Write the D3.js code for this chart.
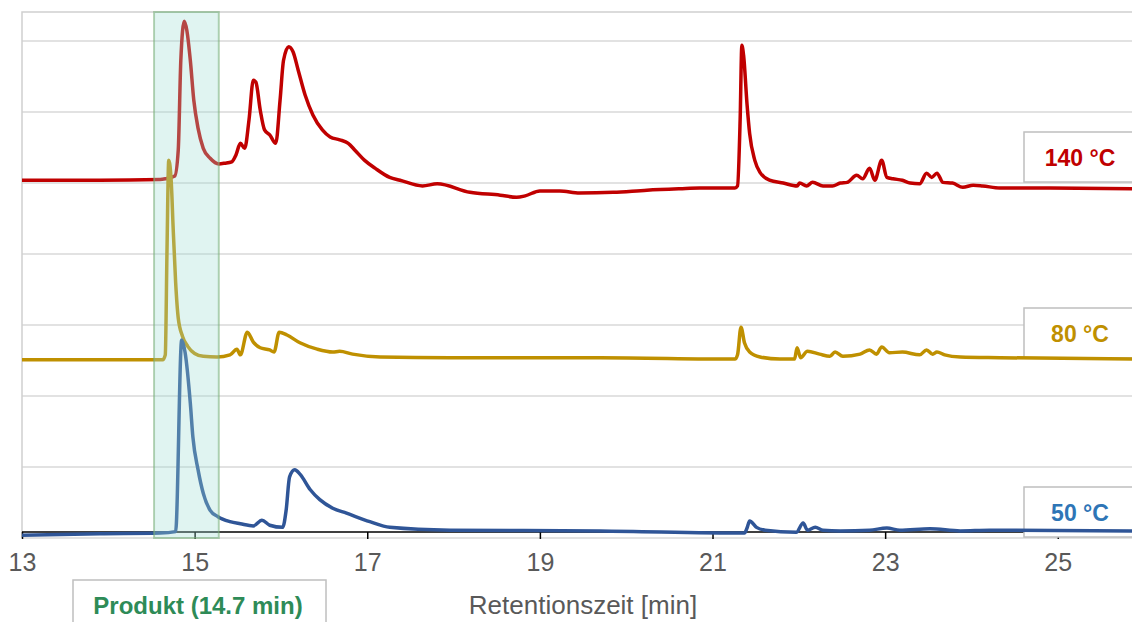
<!DOCTYPE html>
<html>
<head>
<meta charset="utf-8">
<script src="https://cdn.jsdelivr.net/npm/d3@7"></script>
<style>
  body { margin: 0; background: #fff; }
  text { font-family: "Liberation Sans", Arial, sans-serif; }
</style>
</head>
<body>
<div id="chart"></div>
<script>
// retention time [min] / signal (stacked, arbitrary units)
const series140 = [
  [13.00,50.4],[13.90,50.4],[14.60,50.5],[14.66,50.6],[14.77,51.0],[14.81,54.6],[14.84,67.3],[14.88,72.8],
  [14.91,71.5],[14.95,67.3],[14.99,61.7],[15.04,57.7],[15.10,54.9],[15.18,53.5],[15.28,52.7],[15.35,52.8],
  [15.43,53.0],[15.48,54.0],[15.53,55.6],[15.58,54.9],[15.63,58.9],[15.68,64.5],[15.71,64.2],[15.76,60.3],
  [15.81,57.5],[15.87,56.8],[15.94,55.6],[15.99,61.7],[16.03,67.3],[16.09,69.2],[16.14,68.5],[16.20,65.9],
  [16.28,62.4],[16.37,59.6],[16.48,57.5],[16.57,56.5],[16.68,56.1],[16.78,55.6],[16.86,54.6],[16.97,53.2],
  [17.09,52.1],[17.26,50.8],[17.38,50.4],[17.64,49.6],[17.81,49.9],[18.19,48.7],[18.54,48.3],[18.73,48.0],
  [18.83,48.2],[19.00,48.9],[19.23,48.9],[19.46,48.6],[19.85,48.7],[20.24,49.0],[20.62,49.2],[20.85,49.3],
  [21.26,49.3],[21.29,49.6],[21.32,58.9],[21.34,69.4],[21.36,68.0],[21.40,61.1],[21.43,57.0],[21.49,53.2],
  [21.55,51.5],[21.66,50.4],[21.82,50.0],[21.98,49.6],[22.01,50.0],[22.09,49.6],[22.16,50.1],[22.28,49.6],
  [22.39,49.6],[22.48,50.0],[22.56,50.1],[22.67,51.1],[22.74,50.6],[22.82,52.1],[22.88,50.4],[22.96,53.2],
  [23.02,50.8],[23.09,50.6],[23.20,50.4],[23.29,50.0],[23.40,49.9],[23.48,51.4],[23.54,50.8],[23.60,51.4],
  [23.67,50.1],[23.78,50.0],[23.90,49.4],[24.02,49.7],[24.13,49.6],[24.33,49.3],[24.91,49.3],[25.86,49.2]
];

const series80 = [
  [13.00,25.1],[13.90,25.1],[14.63,25.1],[14.66,25.8],[14.68,40.6],[14.70,53.2],[14.73,50.0],[14.75,44.0],
  [14.78,36.0],[14.81,31.0],[14.86,28.4],[14.92,27.0],[15.00,26.0],[15.10,25.6],[15.26,25.5],[15.41,25.8],[15.49,26.6],
  [15.53,25.8],[15.61,29.0],[15.68,27.6],[15.76,26.8],[15.87,26.5],[15.92,26.2],[15.98,29.0],[16.07,28.6],
  [16.22,27.5],[16.42,26.6],[16.60,26.2],[16.68,26.3],[16.83,25.9],[17.15,25.5],[17.96,25.4],[19.70,25.4],
  [21.26,25.2],[21.29,25.8],[21.33,29.7],[21.37,27.5],[21.43,26.2],[21.55,25.5],[21.78,25.2],[21.95,25.2],
  [21.98,26.8],[22.02,25.4],[22.10,26.3],[22.24,25.9],[22.36,25.6],[22.42,26.2],[22.51,25.6],[22.71,25.9],
  [22.82,26.5],[22.90,25.9],[22.96,26.9],[23.05,26.1],[23.20,26.2],[23.40,25.8],[23.48,26.5],[23.55,25.9],
  [23.60,26.2],[23.69,25.8],[23.87,25.5],[24.33,25.4],[25.86,25.2]
];

const series50 = [
  [13.00,0.4],[13.90,0.6],[14.60,0.7],[14.78,0.9],[14.85,27.9],[14.89,26.1],[14.95,19.0],[14.98,14.2],
  [15.04,9.6],[15.10,6.3],[15.18,3.9],[15.27,3.0],[15.41,2.3],[15.53,2.0],[15.68,1.7],[15.78,2.5],
  [15.87,1.8],[16.02,1.5],[16.06,3.9],[16.10,8.6],[16.16,9.6],[16.22,9.0],
  [16.34,6.8],[16.45,5.4],[16.60,4.2],[16.76,3.5],[17.03,2.3],[17.26,1.5],[17.96,1.1],[19.70,1.0],
  [21.37,0.7],[21.40,1.4],[21.43,2.4],[21.51,1.5],[21.61,1.1],[21.97,0.8],[22.05,2.1],[22.10,1.1],
  [22.19,1.5],[22.28,1.1],[22.48,1.0],[22.82,1.1],[23.02,1.4],[23.17,1.1],[23.52,1.3],[23.87,1.0],
  [24.21,1.1],[25.86,1.0]
];

const seriesNames = ["140 °C", "80 °C", "50 °C"];
const seriesColors = ["#c00000", "#bf9000", "#2f5597"];
const labelColors = ["#c00000", "#bf9000", "#2e75b6"];

const xTicks = [13, 15, 17, 19, 21, 23, 25];
const yGrid = [0, 10, 20, 30, 40, 50, 60, 70];
const productRange = [14.53, 15.28];
const productLabel = "Produkt (14.7 min)";
const xTitle = "Retentionszeit [min]";

const width = 1132, height = 622;
const margin = { top: 12, right: 0, bottom: 84, left: 22 };

const x = d3.scaleLinear()
  .domain([13, 25.86])
  .range([margin.left, width - margin.right]);

const y = d3.scaleLinear()
  .domain([0, 74.1])
  .range([height - margin.bottom, margin.top]);

const svg = d3.select("#chart")
  .append("svg")
  .attr("width", width)
  .attr("height", height);

// grid
svg.append("g")
  .selectAll("line")
  .data(yGrid)
  .join("line")
  .attr("x1", margin.left)
  .attr("x2", width)
  .attr("y1", d => y(d))
  .attr("y2", d => y(d))
  .attr("stroke", "#d9d9d9")
  .attr("stroke-width", 1.5);

// plot frame (top + left)
svg.append("path")
  .attr("d", `M${width},${margin.top}H${margin.left}V${y(0)}`)
  .attr("fill", "none")
  .attr("stroke", "#d0d0d0")
  .attr("stroke-width", 1.5);

// x axis sits a bit above the lowest grid line
const axisY = y(0.85);
const xAxis = d3.axisBottom(x)
  .tickValues(xTicks)
  .tickSize(7)
  .tickPadding(14)
  .tickFormat(d3.format("d"));

const gx = svg.append("g")
  .attr("transform", `translate(0,${axisY})`)
  .call(xAxis);
gx.select(".domain")
  .attr("d", `M${margin.left},0H${width}`)
  .attr("stroke", "#000")
  .attr("stroke-width", 1.5);
gx.selectAll(".tick line").attr("stroke", "#000").attr("stroke-width", 1.5);
gx.selectAll(".tick text")
  .attr("fill", "#595959")
  .style("font-size", "25px")
  .style("font-family", "Liberation Sans, Arial, sans-serif");

svg.append("text")
  .attr("x", 583)
  .attr("y", 614)
  .attr("text-anchor", "middle")
  .attr("fill", "#595959")
  .style("font-size", "26px")
  .text(xTitle);

// series labels (boxes sit under the traces)
const labelBoxes = [132, 308, 487];
const lg = svg.append("g")
  .selectAll("g")
  .data(seriesNames)
  .join("g")
  .attr("transform", (d, i) => `translate(1024,${labelBoxes[i]})`);

lg.append("rect")
  .attr("width", 120)
  .attr("height", 50)
  .attr("fill", "#fff")
  .attr("stroke", "#bfbfbf")
  .attr("stroke-width", 1.5);

lg.append("text")
  .attr("x", 56)
  .attr("y", 34)
  .attr("text-anchor", "middle")
  .attr("fill", (d, i) => labelColors[i])
  .style("font-size", "23px")
  .style("font-weight", "bold")
  .text(d => d);

// traces
const line = d3.line()
  .x(d => x(d[0]))
  .y(d => y(d[1]))
  .curve(d3.curveMonotoneX);

const allSeries = [series140, series80, series50];

svg.append("g")
  .selectAll("path")
  .data(allSeries)
  .join("path")
  .attr("d", d => line(d))
  .attr("fill", "none")
  .attr("stroke", (d, i) => seriesColors[i])
  .attr("stroke-width", 3.5)
  .attr("stroke-linejoin", "round");

// product window
svg.append("rect")
  .attr("x", x(productRange[0]))
  .attr("width", x(productRange[1]) - x(productRange[0]))
  .attr("y", margin.top)
  .attr("height", y(0) - margin.top)
  .attr("fill", "rgb(160,222,210)")
  .attr("fill-opacity", 0.32)
  .attr("stroke", "rgb(120,175,120)")
  .attr("stroke-opacity", 0.55)
  .attr("stroke-width", 2);

// product label
const pg = svg.append("g").attr("transform", "translate(73,580)");
pg.append("rect")
  .attr("width", 253)
  .attr("height", 60)
  .attr("fill", "#fff")
  .attr("stroke", "#bfbfbf")
  .attr("stroke-width", 1.5);
pg.append("text")
  .attr("x", 125)
  .attr("y", 34)
  .attr("text-anchor", "middle")
  .attr("fill", "#2e8b57")
  .style("font-size", "24px")
  .style("font-weight", "bold")
  .text(productLabel);
</script>
</body>
</html>
